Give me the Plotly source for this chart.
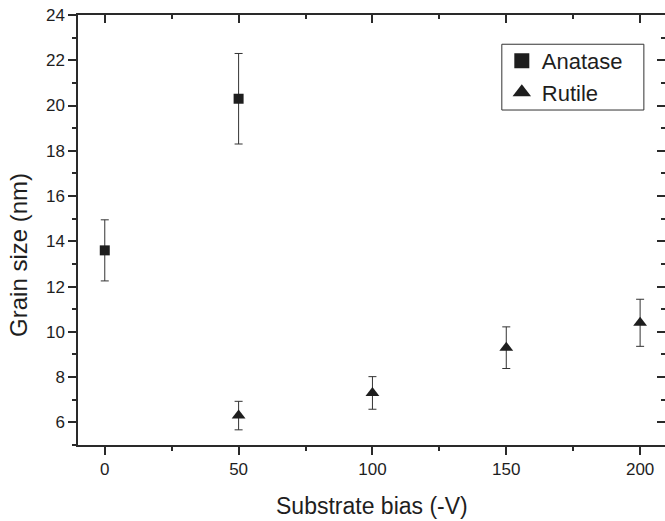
import plotly.graph_objects as go

# Data
anatase_x = [0, 50]
anatase_y = [13.6, 20.3]
anatase_err = [1.35, 2.0]

rutile_x = [50, 100, 150, 200]
rutile_y = [6.3, 7.3, 9.3, 10.4]
rutile_err = [0.63, 0.72, 0.92, 1.04]

x_tick_vals = [0, 50, 100, 150, 200]
y_tick_vals = [6, 8, 10, 12, 14, 16, 18, 20, 22, 24]

x_range = [-10, 209.3]
y_range = [5, 24]

FONT = "Liberation Sans, Arial, sans-serif"
INK = "#1e1e1e"
LINE = "#2a2a2a"

fig = go.Figure()

fig.add_trace(go.Scatter(
    x=anatase_x, y=anatase_y, mode="markers", name="Anatase", showlegend=False,
    marker=dict(symbol="square", size=10, color=INK),
    error_y=dict(type="data", array=anatase_err, visible=True, color="#333333",
                 thickness=1, width=4),
))
fig.add_trace(go.Scatter(
    x=rutile_x, y=rutile_y, mode="markers", name="Rutile", showlegend=False,
    marker=dict(symbol="triangle-up", size=12, color=INK),
    error_y=dict(type="data", array=rutile_err, visible=True, color="#333333",
                 thickness=1, width=4),
))
# legend entries (bigger symbols as in the reference)
fig.add_trace(go.Scatter(x=[None], y=[None], mode="markers", name="Anatase",
                         marker=dict(symbol="square", size=15, color=INK)))
fig.add_trace(go.Scatter(x=[None], y=[None], mode="markers", name="Rutile",
                         marker=dict(symbol="triangle-up", size=16, color=INK)))

common = dict(showgrid=False, zeroline=False, linecolor=LINE, linewidth=1.5,
              tickcolor=LINE, tickwidth=1.5)

fig.update_layout(
    width=665, height=521,
    margin=dict(l=78, r=0, t=15, b=76),
    paper_bgcolor="white", plot_bgcolor="white",
    font=dict(family=FONT, color=INK, size=17),
    xaxis=dict(range=x_range, tickvals=x_tick_vals, ticks="outside", ticklen=8,
               showline=True, tickfont=dict(size=17), automargin=False,
               minor=dict(dtick=25, tick0=0, ticks="outside", ticklen=4,
                          tickcolor=LINE, tickwidth=1.5),
               **common),
    yaxis=dict(range=y_range, tickvals=y_tick_vals, ticks="outside", ticklen=8,
               showline=True, tickfont=dict(size=17), automargin=False,
               minor=dict(dtick=1, tick0=0, ticks="outside", ticklen=4,
                          tickcolor=LINE, tickwidth=1.5),
               **common),
    xaxis2=dict(range=x_range, overlaying="x", side="top", anchor="y",
                tickvals=x_tick_vals, ticks="inside", ticklen=8, showticklabels=False,
                showline=True, automargin=False,
                minor=dict(dtick=25, tick0=0, ticks="inside", ticklen=4,
                           tickcolor=LINE, tickwidth=1.5),
                **common),
    yaxis2=dict(range=y_range, overlaying="y", side="right", anchor="x",
                tickvals=y_tick_vals, ticks="inside", ticklen=8, showticklabels=False,
                showline=False, automargin=False,
                minor=dict(dtick=1, tick0=0, ticks="inside", ticklen=4,
                           tickcolor=LINE, tickwidth=1.5),
                **common),
    legend=dict(x=0.722, y=0.942, xanchor="left", yanchor="top",
                borderwidth=0, bgcolor="rgba(0,0,0,0)",
                font=dict(size=22, family=FONT, color=INK),
                itemwidth=30, tracegroupgap=0),
    showlegend=True,
    shapes=[
        dict(type="rect", xref="paper", yref="paper", x0=0.722, x1=0.964,
             y0=0.779, y1=0.932, line=dict(color="#333333", width=1),
             fillcolor="rgba(0,0,0,0)", layer="above"),
    ],
    annotations=[
        dict(text="Substrate bias (-V)", xref="paper", yref="paper", x=0.5, y=-0.142,
             xanchor="center", yanchor="middle", showarrow=False,
             font=dict(size=23, family=FONT, color=INK)),
        dict(text="Grain size (nm)", xref="paper", yref="paper", x=-0.1005, y=0.442,
             xanchor="center", yanchor="middle", textangle=-90, showarrow=False,
             font=dict(size=24, family=FONT, color=INK)),
    ],
)

# attach an invisible trace to the mirrored axes so they are drawn
fig.add_trace(go.Scatter(x=[None], y=[None], xaxis="x2", yaxis="y2",
                         showlegend=False, hoverinfo="skip"))

fig.write_html("out.html", config={"displayModeBar": False},
               post_script="document.body.style.margin='0';document.body.style.overflow='hidden';")
